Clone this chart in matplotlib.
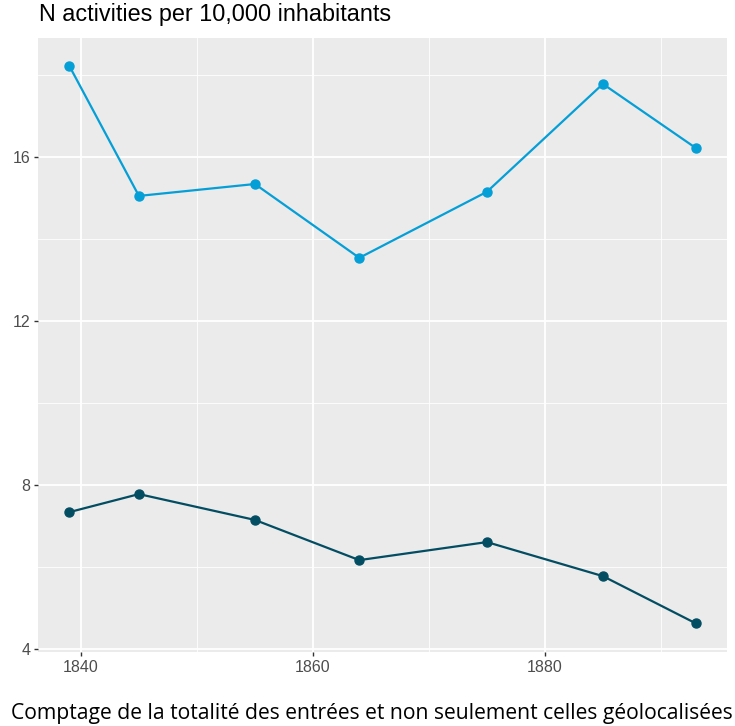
import matplotlib
matplotlib.use("Agg")
import matplotlib.pyplot as plt
from matplotlib.ticker import FixedLocator

years = [1839, 1845, 1855, 1864, 1875, 1885, 1893]
total = [18.22, 15.05, 15.34, 13.54, 15.15, 17.78, 16.22]
geoloc = [7.34, 7.78, 7.15, 6.17, 6.61, 5.78, 4.63]
x_ticks = [1840, 1860, 1880]
x_minor = [1850, 1870, 1890]
y_ticks = [4, 8, 12, 16]
y_minor = [6, 10, 14, 18]
title = "N activities per 10,000 inhabitants"
caption = "Comptage de la totalité des entrées et non seulement celles géolocalisées"

W, H = 735, 726
fig = plt.figure(figsize=(W / 100, H / 100), dpi=100)
ax = fig.add_axes([38 / W, 1 - 652 / H, (727 - 38) / W, (652 - 38) / H])
ax.set_facecolor("#EBEBEB")
for s in ax.spines.values():
    s.set_visible(False)

ax.set_xlim(1836.3, 1895.7)
ax.set_ylim(3.93, 18.9)
ax.xaxis.set_major_locator(FixedLocator(x_ticks))
ax.xaxis.set_minor_locator(FixedLocator(x_minor))
ax.yaxis.set_major_locator(FixedLocator(y_ticks))
ax.yaxis.set_minor_locator(FixedLocator(y_minor))
ax.grid(which="major", color="white", linewidth=1.3)
ax.grid(which="minor", color="white", linewidth=0.6)
ax.set_axisbelow(True)
ax.tick_params(which="major", length=3, width=1, color="#333333",
               labelcolor="#4D4D4D", labelsize=11.5, pad=2.5)
ax.tick_params(which="minor", length=0)
for lab in ax.get_xticklabels() + ax.get_yticklabels():
    lab.set_family("Liberation Sans")

ax.plot(years, total, color="#049FD6", linewidth=1.6, marker="o", markersize=6.5, zorder=3)
ax.plot(years, geoloc, color="#034D63", linewidth=1.6, marker="o", markersize=6.5, zorder=3)

fig.text(39 / W, 1 - 21 / H, title, fontsize=16.8, family="Liberation Sans",
         va="baseline", ha="left", color="black")
fig.text(733 / W, 1 - 719 / H, caption, fontsize=15.2, family="Open Sans",
         va="baseline", ha="right", color="black")

fig.savefig("out.png", dpi=100)
